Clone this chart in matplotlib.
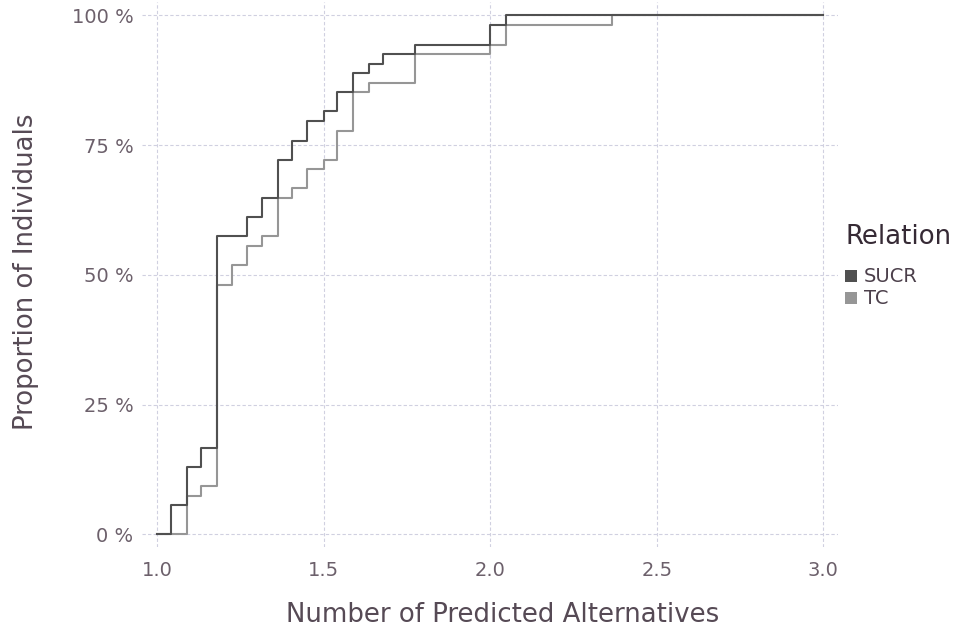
import numpy as np
import matplotlib
matplotlib.use("Agg")
import matplotlib.pyplot as plt
from matplotlib.patches import Rectangle

# step points (x = number of predicted alternatives, y = cumulative % of individuals)
sucr_x = [1.0, 1.040, 1.088, 1.130, 1.178, 1.268, 1.315, 1.363, 1.404, 1.450,
          1.500, 1.541, 1.588, 1.637, 1.677, 1.774, 2.000, 2.048, 3.0]
sucr_y = [0, 5.6, 13.0, 16.7, 57.4, 61.1, 64.8, 72.2, 75.9, 79.6,
          81.5, 85.2, 88.9, 90.7, 92.6, 94.4, 98.1, 100, 100]

tc_x = [1.0, 1.088, 1.130, 1.178, 1.225, 1.268, 1.315, 1.363, 1.404, 1.450,
        1.500, 1.541, 1.588, 1.637, 1.774, 2.000, 2.048, 2.365, 3.0]
tc_y = [0, 7.4, 9.3, 48.1, 51.9, 55.6, 57.4, 64.8, 66.7, 70.4,
        72.2, 77.8, 85.2, 87.0, 92.6, 94.4, 98.1, 100, 100]

relations = ["SUCR", "TC"]
colors = {"SUCR": "#505050", "TC": "#969696"}

x_ticks = [1.0, 1.5, 2.0, 2.5, 3.0]
x_ticklabels = ["1.0", "1.5", "2.0", "2.5", "3.0"]
y_ticks = [0, 25, 50, 75, 100]
y_ticklabels = ["0 %", "25 %", "50 %", "75 %", "100 %"]

tick_col = "#6c606b"
label_col = "#564a55"
W, H = 958, 634

fig = plt.figure(figsize=(9.58, 6.34), dpi=100)
ax = fig.add_axes([142/W, 1 - 547/H, 696/W, 545/H])

# SUCR drawn last so it sits on top
ax.step(tc_x, tc_y, where="post", color=colors["TC"], lw=1.5)
ax.step(sucr_x, sucr_y, where="post", color=colors["SUCR"], lw=1.5)

ax.set_xlim(0.954, 3.044)
ax.set_ylim(-2.45, 102.6)
ax.set_xticks(x_ticks)
ax.set_xticklabels(x_ticklabels)
ax.set_yticks(y_ticks)
ax.set_yticklabels(y_ticklabels)
ax.tick_params(length=0, labelsize=14, labelcolor=tick_col)
ax.tick_params(axis="x", pad=10.3)
ax.tick_params(axis="y", pad=6.3)
for s in ax.spines.values():
    s.set_visible(False)
ax.grid(True, color="#d0d0e0", lw=0.8, linestyle=(0, (3, 2)))
ax.set_axisbelow(True)

fig.text(503/W, 1 - 622/H, "Number of Predicted Alternatives",
         ha="center", va="baseline", fontsize=18.7, color=label_col)
fig.text(26/W, 1 - 272/H, "Proportion of Individuals", rotation=90,
         ha="center", va="center", fontsize=18.7, color=label_col)

# legend, drawn by hand to match the key layout
fig.text(846/W, 1 - 243.5/H, "Relation", ha="left", va="baseline",
         fontsize=18.7, color="#362a35")
for i, r in enumerate(relations):
    top = 270.3 + i * 22
    fig.patches.append(Rectangle((845.3/W, 1 - (top + 12)/H), 12/W, 12/H,
                                 transform=fig.transFigure, facecolor=colors[r],
                                 edgecolor="none"))
    fig.text(864/W, 1 - (282 + i * 22)/H, r, ha="left", va="baseline",
             fontsize=14, color="#4c404b")

fig.savefig("out.png", dpi=100)
